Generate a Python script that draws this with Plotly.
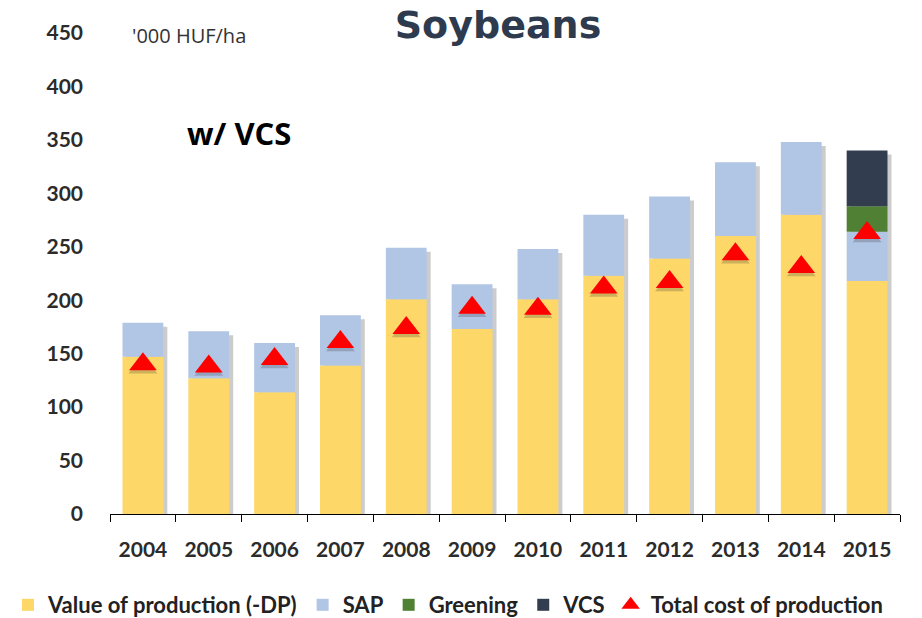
import numpy as np
import plotly.graph_objects as go

years = ["2004", "2005", "2006", "2007", "2008", "2009", "2010", "2011", "2012", "2013", "2014", "2015"]
value_of_production = [147, 127, 114, 139, 201, 173, 201, 223, 239, 260, 280, 218]
sap = [32, 44, 46, 47, 48, 42, 47, 57, 58, 69, 68, 46]
greening = [0, 0, 0, 0, 0, 0, 0, 0, 0, 0, 0, 24]
vcs = [0, 0, 0, 0, 0, 0, 0, 0, 0, 0, 0, 52]
total_cost = [140, 138, 145, 161, 174, 193, 192, 212, 217, 243, 231, 263]
y_ticks = [0, 50, 100, 150, 200, 250, 300, 350, 400, 450]

# page body has an 8px margin: figure is drawn at (8, 8) in the window
W, H = 914, 610
OFF = 8
PLOT_L, PLOT_R, PLOT_T, PLOT_B = 110 - OFF, 900 - OFF, 33 - OFF, 514 - OFF
PW, PH = PLOT_R - PLOT_L, PLOT_B - PLOT_T

FONT = "Lato"
TXT = "#2b2b2b"
BAR_W = 0.62

vop = np.array(value_of_production, dtype=float)
s = np.array(sap, dtype=float)
g = np.array(greening, dtype=float)
v = np.array(vcs, dtype=float)
base_sap = vop
base_green = vop + s
base_vcs = vop + s + g
totals = vop + s + g + v

px_per_unit = PH / 450.0
px_per_cat = PW / len(years)
shadow_dx = 4 / px_per_cat
shadow_dy = 4 / px_per_unit

fig = go.Figure()
# soft drop shadows
fig.add_trace(go.Bar(x=years, y=totals - shadow_dy, width=BAR_W, offset=-BAR_W / 2 + shadow_dx,
                     marker=dict(color="rgba(110,110,110,0.35)", line=dict(width=0)),
                     showlegend=False, hoverinfo="skip"))
fig.add_trace(go.Bar(x=years, y=value_of_production, name="Value of production (-DP)", width=BAR_W,
                     marker=dict(color="#FDD767", line=dict(width=0))))
fig.add_trace(go.Bar(x=years, y=sap, base=base_sap, name="SAP", width=BAR_W,
                     marker=dict(color="#B1C5E5", line=dict(width=0))))
fig.add_trace(go.Bar(x=years, y=greening, base=base_green, name="Greening", width=BAR_W,
                     marker=dict(color="#4F8034", line=dict(width=0))))
fig.add_trace(go.Bar(x=years, y=vcs, base=base_vcs, name="VCS", width=BAR_W,
                     marker=dict(color="#323E50", line=dict(width=0))))
fig.add_trace(go.Scatter(x=years, y=np.array(total_cost) - 3 / px_per_unit, mode="markers",
                         marker=dict(symbol="triangle-up", size=25, color="rgba(60,60,60,0.25)",
                                     line=dict(width=0)),
                         showlegend=False, hoverinfo="skip"))
fig.add_trace(go.Scatter(x=years, y=total_cost, name="Total cost of production", mode="markers",
                         marker=dict(symbol="triangle-up", size=24, color="#FF0000", line=dict(width=0))))

fig.update_layout(
    width=W, height=H,
    barmode="overlay",
    plot_bgcolor="white", paper_bgcolor="white",
    margin=dict(l=PLOT_L, r=W - PLOT_R, t=PLOT_T, b=H - PLOT_B, autoexpand=False),
    font=dict(family=FONT, color=TXT),
    title=dict(text="Soybeans", x=(498 - OFF) / W, y=1 - (24.7 - OFF) / H, xanchor="center", yanchor="middle",
               xref="container", yref="container",
               font=dict(family="DejaVu Sans", size=38, weight="bold", color="#2E3B4E")),
    showlegend=True,
    legend=dict(orientation="h", xref="paper", yref="paper", x=-PLOT_L / PW, y=(PLOT_B - (605 - OFF)) / PH,
                xanchor="left", yanchor="middle", traceorder="normal", itemwidth=30,
                font=dict(family=FONT, size=22, weight="bold", color="#222222"),
                bgcolor="rgba(0,0,0,0)"),
)
fig.update_xaxes(type="category", range=[-0.5, len(years) - 0.5],
                 showline=True, linecolor="#000000", linewidth=1.3,
                 ticks="outside", tickson="boundaries", ticklen=7, tickcolor="#000000", tickwidth=1.3,
                 ticklabelstandoff=17, showgrid=False, automargin=False,
                 tickfont=dict(family=FONT, size=21, weight="bold", color=TXT))
fig.update_yaxes(range=[0, 450], tickvals=y_ticks, showline=False, showgrid=False, zeroline=False,
                 ticks="", ticklabelstandoff=26, automargin=False,
                 tickfont=dict(family=FONT, size=21, weight="bold", color=TXT))

fig.add_annotation(text="'000 HUF/ha", xref="paper", yref="paper", x=(130 - 110) / 790, y=(514 - 36) / 481,
                   xanchor="left", yanchor="middle", showarrow=False,
                   font=dict(family="Open Sans", size=20, color="#333333"))
fig.add_annotation(text="w/ VCS", xref="paper", yref="paper", x=(185 - 110) / 790, y=(514 - 133) / 481,
                   xanchor="left", yanchor="middle", showarrow=False,
                   font=dict(family="Open Sans", size=31, weight="bold", color="#000000"))

fig.write_html("out.html")
